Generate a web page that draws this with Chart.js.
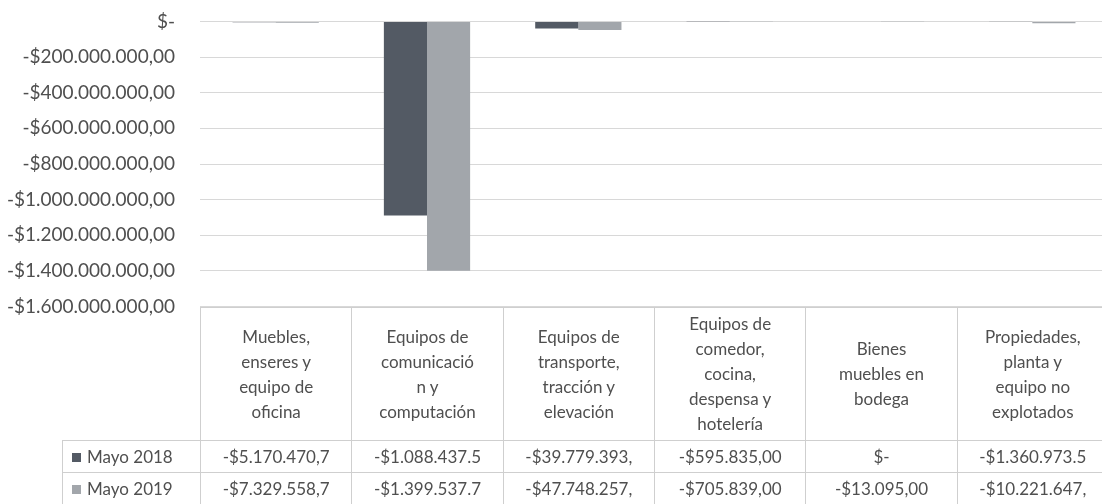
<!DOCTYPE html>
<html>
<head>
<meta charset="utf-8">
<script src="https://cdn.jsdelivr.net/npm/chart.js@4"></script>
<style>
  body { margin: 0; background: #fff; }
  #wrap { position: relative; width: 1102px; height: 504px; overflow: hidden; background: #fff; }
  #box { position: absolute; left: 0; top: -15px; width: 1108px; height: 358px; }
  #tbl { position: absolute; border-collapse: collapse; table-layout: fixed;
         font-family: Lato, "Open Sans", sans-serif; font-size: 17px; color: #4f4f4f; }
  #tbl td { border: 1px solid #cfcfcf; text-align: center; white-space: nowrap; overflow: hidden; padding: 0; }
  #tbl tr.head td { line-height: 25px; vertical-align: middle; }
  #tbl td.corner { border-top: none; border-left: none; }
  #tbl td.name { text-align: left; padding-left: 9px; }
  .sw { display: inline-block; width: 9px; height: 9px; margin-right: 6px; vertical-align: 1px; }
</style>
</head>
<body>
<div id="wrap">
  <div id="box"><canvas id="chart" width="1108" height="358"></canvas></div>
  <table id="tbl"></table>
</div>
<script>
const categories = [
    ["Muebles,", "enseres y", "equipo de", "oficina"],
    ["Equipos de", "comunicació", "n y", "computación"],
    ["Equipos de", "transporte,", "tracción y", "elevación"],
    ["Equipos de", "comedor,", "cocina,", "despensa y", "hotelería"],
    ["Bienes", "muebles en", "bodega"],
    ["Propiedades,", "planta y", "equipo no", "explotados"]
];
const seriesNames = ["Mayo 2018", "Mayo 2019"];
const may2018 = [-5170470.7, -1088437500, -39779393, -595835, 0, -1360973.5];
const may2019 = [-7329558.7, -1399537700, -47748257, -705839, -13095, -10221647];
// cell text as printed (clipped by the column width)
const cells2018 = ["-$5.170.470,7", "-$1.088.437.5", "-$39.779.393,", "-$595.835,00", "$-", "-$1.360.973.5"];
const cells2019 = ["-$7.329.558,7", "-$1.399.537.7", "-$47.748.257,", "-$705.839,00", "-$13.095,00", "-$10.221.647,"];
const yMin = -1600000000;
const yMax = 0;
const yStep = 200000000;

const colors = ["#535a64", "#a2a6ab"];
const canvasTop = -15;

function money(v) {
    if (v === 0) return "$-";
    const parts = Math.abs(v).toFixed(2).split(".");
    const grouped = parts[0].replace(/\B(?=(\d{3})+(?!\d))/g, ".");
    return (v < 0 ? "-" : "") + "$" + grouped + "," + parts[1];
}

const chart = new Chart(
    document.getElementById("chart"),
    {
        type: "bar",
        data: {
            labels: categories,
            datasets: [{
                label: seriesNames[0],
                data: may2018,
                backgroundColor: colors[0]
            }, {
                label: seriesNames[1],
                data: may2019,
                backgroundColor: colors[1]
            }]
        },
        options: {
            responsive: false,
            animation: false,
            layout: {
                padding: { top: 5, bottom: 13, right: 0, left: 0 }
            },
            datasets: {
                bar: {
                    categoryPercentage: 0.57,
                    barPercentage: 1.0
                }
            },
            plugins: {
                legend: { display: false },
                tooltip: { enabled: false }
            },
            scales: {
                x: {
                    display: false
                },
                y: {
                    min: yMin,
                    max: yMax,
                    border: { display: false },
                    grid: {
                        color: "#d8d8d8",
                        drawTicks: false
                    },
                    ticks: {
                        stepSize: yStep,
                        padding: 25,
                        color: "#4f4f4f",
                        font: { family: "Lato", size: 19 },
                        callback: (v) => money(v)
                    },
                    afterFit: (scale) => { scale.width = 200; }
                }
            }
        }
    }
);

// data table under the plot, lined up with the category columns
const area = chart.chartArea;
const tbl = document.getElementById("tbl");
const tableLeft = 62;
const colW = (area.right - area.left) / categories.length;
tbl.style.left = tableLeft + "px";
tbl.style.top = (area.bottom + canvasTop) + "px";
tbl.style.width = (area.right - tableLeft) + "px";

let html = "<colgroup><col style='width:" + (area.left - tableLeft) + "px'>";
categories.forEach(() => { html += "<col style='width:" + colW + "px'>"; });
html += "</colgroup>";
html += "<tr class='head' style='height:133px'><td class='corner'></td>";
categories.forEach((c) => { html += "<td>" + c.join("<br>") + "</td>"; });
html += "</tr>";
[cells2018, cells2019].forEach((row, i) => {
    html += "<tr style='height:32px'><td class='name'><span class='sw' style='background:" + colors[i] + "'></span>" + seriesNames[i] + "</td>";
    row.forEach((t) => { html += "<td>" + t + "</td>"; });
    html += "</tr>";
});
tbl.innerHTML = html;
</script>
</body>
</html>
